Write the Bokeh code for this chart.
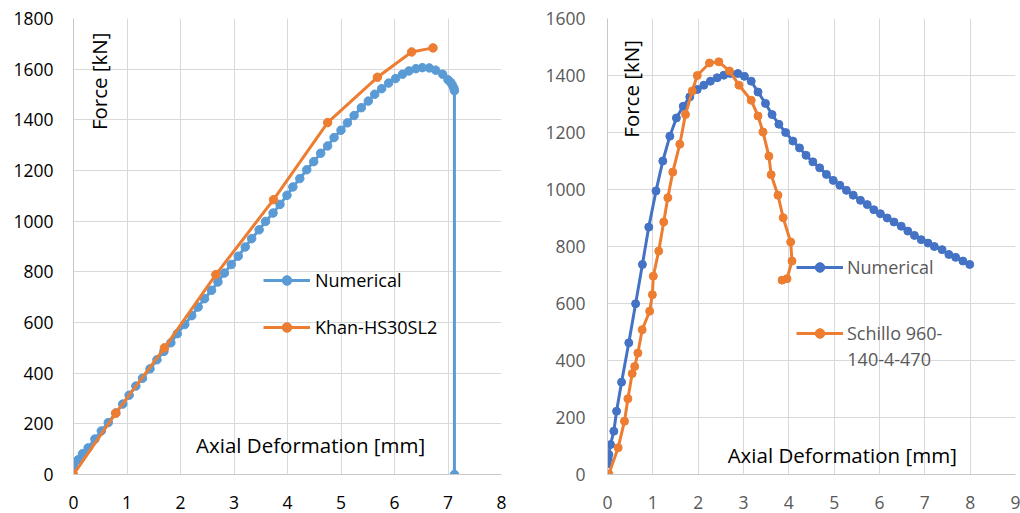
from bokeh.plotting import figure
from bokeh.layouts import row
from bokeh.models import FixedTicker, Legend, LegendItem, Label, Range1d
from bokeh.embed import file_html
from bokeh.resources import INLINE

FONT = "Open Sans"

# ---------------- Left chart data ----------------
left_num_x = [0.0, 0.086, 0.168, 0.273, 0.40, 0.52, 0.65, 0.79, 0.92, 1.04, 1.165, 1.29, 1.43, 1.56,
              1.69, 1.82, 1.94, 2.08, 2.21, 2.33, 2.45, 2.58, 2.70, 2.82, 2.95, 3.08, 3.21, 3.33, 3.47,
              3.59, 3.73, 3.86, 3.99, 4.10, 4.23, 4.36, 4.49, 4.62, 4.75, 4.87, 5.00, 5.12, 5.245, 5.38,
              5.51, 5.63, 5.76, 5.89, 6.02, 6.15, 6.27, 6.40, 6.52, 6.65, 6.77, 6.90, 7.00, 7.05, 7.08,
              7.11, 7.12, 7.12]
left_num_y = [35, 58, 82, 105, 140, 172, 205, 243, 278, 313, 349, 380, 417, 453,
              486, 520, 556, 592, 627, 661, 694, 727, 760, 795, 829, 862, 898, 931, 966,
              999, 1032, 1066, 1102, 1135, 1168, 1203, 1235, 1268, 1297, 1330, 1359, 1388, 1417, 1448,
              1474, 1501, 1523, 1545, 1563, 1580, 1593, 1602, 1606, 1605, 1596, 1580, 1558, 1548, 1538,
              1525, 1515, 0]
left_exp_x = [0.0, 0.79, 1.70, 2.66, 3.74, 4.75, 5.68, 6.32, 6.72]
left_exp_y = [0, 242, 500, 789, 1085, 1389, 1568, 1668, 1684]

left_x_ticks = [0, 1, 2, 3, 4, 5, 6, 7, 8]
left_y_ticks = [0, 200, 400, 600, 800, 1000, 1200, 1400, 1600, 1800]

# ---------------- Right chart data ----------------
right_num_x = [0.0, 0.015, 0.03, 0.066, 0.14, 0.20, 0.31, 0.47, 0.62, 0.77, 0.91, 1.07, 1.22, 1.375,
               1.52, 1.67, 1.815, 1.98, 2.125, 2.27, 2.42, 2.565, 2.71, 2.875, 3.02, 3.17, 3.32, 3.485,
               3.63, 3.78, 3.93, 4.09, 4.235, 4.38, 4.53, 4.68, 4.83, 4.98, 5.125, 5.27, 5.42, 5.58,
               5.73, 5.875, 6.02, 6.17, 6.32, 6.48, 6.625, 6.77, 6.92, 7.07, 7.21, 7.38, 7.53, 7.68,
               7.84, 7.99]
right_num_y = [37, 55, 70, 105, 152, 222, 324, 462, 599, 737, 868, 995, 1100, 1187,
               1251, 1292, 1325, 1351, 1366, 1380, 1392, 1401, 1407, 1407, 1397, 1380, 1342, 1302,
               1263, 1229, 1200, 1170, 1146, 1120, 1097, 1076, 1053, 1032, 1015, 997, 980, 962,
               947, 929, 915, 900, 886, 871, 854, 839, 824, 812, 800, 789, 772, 762,
               749, 737]
right_exp_x = [0.03, 0.235, 0.375, 0.45, 0.545, 0.60, 0.67, 0.765, 0.93, 0.99, 1.01, 1.13, 1.24, 1.33,
               1.44, 1.595, 1.72, 1.87, 1.98, 2.25, 2.455, 2.69, 2.90, 3.17, 3.32, 3.43, 3.56, 3.61,
               3.76, 3.875, 4.04, 4.07, 3.96, 3.85]
right_exp_y = [2, 94, 187, 266, 354, 379, 426, 508, 573, 631, 696, 784, 886, 971,
               1061, 1159, 1263, 1346, 1400, 1444, 1448, 1416, 1366, 1313, 1258, 1202, 1117, 1052,
               980, 901, 816, 749, 687, 682]

right_x_ticks = [0, 1, 2, 3, 4, 5, 6, 7, 8, 9]
right_y_ticks = [0, 200, 400, 600, 800, 1000, 1200, 1400, 1600]

GRID = "#D9D9D9"


def base_fig(xmax, ymax, xticks, yticks, border_left, border_right, tick_color, ystand):
    p = figure(width=510, height=513, output_backend="svg", toolbar_location=None,
               x_range=Range1d(0, xmax), y_range=Range1d(0, ymax),
               min_border_left=border_left, min_border_right=border_right,
               min_border_top=18, min_border_bottom=39)
    p.outline_line_color = None
    p.background_fill_color = "white"
    p.border_fill_color = "white"
    p.xaxis.ticker = FixedTicker(ticks=xticks)
    p.yaxis.ticker = FixedTicker(ticks=yticks)
    for ax in (p.xaxis, p.yaxis):
        ax.major_tick_line_color = None
        ax.minor_tick_line_color = None
        ax.major_tick_out = 0
        ax.major_tick_in = 0
        ax.minor_tick_out = 0
        ax.minor_tick_in = 0
        ax.axis_line_color = "#C8C8C8"
        ax.axis_line_width = 1
        ax.major_label_text_font = FONT
        ax.major_label_text_font_size = "17.5px"
        ax.major_label_text_color = tick_color
    p.xaxis.major_label_standoff = 21
    p.yaxis.major_label_standoff = ystand
    p.xgrid.grid_line_color = GRID
    p.ygrid.grid_line_color = GRID
    p.xgrid.grid_line_width = 1
    p.ygrid.grid_line_width = 1
    return p


# ---------------- Left figure ----------------
p1 = base_fig(8, 1800, left_x_ticks, left_y_ticks, 73, 9, "#000000", 20)
BLUE1 = "#5B9BD5"
ORANGE = "#ED7D31"
l1 = p1.line(left_num_x, left_num_y, line_color=BLUE1, line_width=3)
s1 = p1.scatter(left_num_x, left_num_y, marker="circle", size=8.5, fill_color=BLUE1, line_color=BLUE1)
l2 = p1.line(left_exp_x, left_exp_y, line_color=ORANGE, line_width=3)
s2 = p1.scatter(left_exp_x, left_exp_y, marker="circle", size=8.5, fill_color=ORANGE, line_color=ORANGE)

leg1 = Legend(items=[LegendItem(label="Numerical", renderers=[l1, s1]),
                     LegendItem(label="Khan-HS30SL2", renderers=[l2, s2])],
              location=(190, 135), orientation="vertical",
              glyph_width=47, glyph_height=24, label_height=24, spacing=23,
              label_standoff=5, padding=0, margin=0,
              border_line_color=None, background_fill_alpha=0,
              label_text_font=FONT, label_text_font_size="18px", label_text_color="#000000")
p1.add_layout(leg1)

p1.add_layout(Label(x=2.29, y=118, text="Axial Deformation [mm]", text_font=FONT,
                    text_font_size="20.5px", text_color="#000000", text_baseline="middle",
                    text_align="left"))
p1.add_layout(Label(x=0.48, y=1552, text="Force [kN]", text_font=FONT, angle=1.5707963,
                    text_font_size="20.5px", text_color="#000000", text_baseline="middle",
                    text_align="center"))

# ---------------- Right figure ----------------
p2 = base_fig(9, 1600, right_x_ticks, right_y_ticks, 97, 5, "#595959", 22)
BLUE2 = "#4472C4"
m1 = p2.line(right_num_x, right_num_y, line_color=BLUE2, line_width=3)
t1 = p2.scatter(right_num_x, right_num_y, marker="circle", size=8, fill_color=BLUE2, line_color=BLUE2)
m2 = p2.line(right_exp_x, right_exp_y, line_color=ORANGE, line_width=3)
t2 = p2.scatter(right_exp_x, right_exp_y, marker="circle", size=8, fill_color=ORANGE, line_color=ORANGE)

leg2 = Legend(items=[LegendItem(label="Numerical", renderers=[m1, t1]),
                     LegendItem(label="Schillo 960-", renderers=[m2, t2])],
              location=(189, 129), orientation="vertical",
              glyph_width=47, glyph_height=24, label_height=24, spacing=42,
              label_standoff=4, padding=0, margin=0,
              border_line_color=None, background_fill_alpha=0,
              label_text_font=FONT, label_text_font_size="18px", label_text_color="#595959")
p2.add_layout(leg2)
p2.add_layout(Label(x=5.29, y=404, text="140-4-470", text_font=FONT,
                    text_font_size="18px", text_color="#595959", text_baseline="middle",
                    text_align="left"))

p2.add_layout(Label(x=2.65, y=67, text="Axial Deformation [mm]", text_font=FONT,
                    text_font_size="20.5px", text_color="#000000", text_baseline="middle",
                    text_align="left"))
p2.add_layout(Label(x=0.51, y=1353, text="Force [kN]", text_font=FONT, angle=1.5707963,
                    text_font_size="20.5px", text_color="#000000", text_baseline="middle",
                    text_align="center"))

layout = row(p1, p2)
open("out.html", "w").write(file_html(layout, INLINE))
